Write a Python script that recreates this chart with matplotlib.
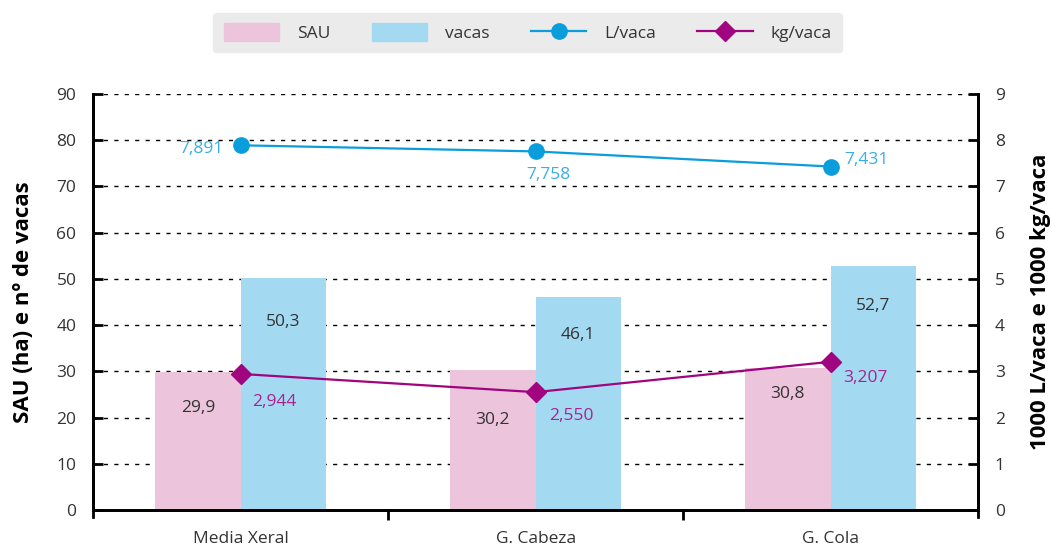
import matplotlib
matplotlib.use("Agg")
import matplotlib.pyplot as plt
from matplotlib import font_manager
from matplotlib.patches import Patch
from matplotlib.lines import Line2D

# ----------------------------------------------------------------
# Data
# ----------------------------------------------------------------
categories = ["Media Xeral", "G. Cabeza", "G. Cola"]
sau = [29.9, 30.2, 30.8]
vacas = [50.3, 46.1, 52.7]
l_vaca = [7.891, 7.758, 7.431]
kg_vaca = [2.944, 2.550, 3.207]

# label anchors (style only)
sau_lab_y = [22.0, 19.5, 25.1]
vacas_lab_y = [40.7, 37.9, 44.2]

# ----------------------------------------------------------------
# Style
# ----------------------------------------------------------------
names = {f.name for f in font_manager.fontManager.ttflist}
for fam in ["Liberation Sans Narrow", "Open Sans", "DejaVu Sans"]:
    if fam in names:
        FONT = fam
        break
plt.rcParams["font.family"] = [FONT, "DejaVu Sans"]

C_SAU = "#ecc4dc"
C_VACAS = "#a3daf2"
C_L = "#0a9ddc"
C_L_TXT = "#3aaee2"
C_KG = "#a0047e"
C_KG_TXT = "#a8238e"
C_TXT = "#333333"
FS = 12.5

fig = plt.figure(figsize=(10.55, 5.45), dpi=100)
ax = fig.add_axes([0.0882, 0.0642, 0.8389, 0.7633])
ax2 = ax.twinx()

x = list(range(len(categories)))
w = 0.29
ax.bar([i - w / 2 for i in x], sau, width=w, color=C_SAU, zorder=2)
ax.bar([i + w / 2 for i in x], vacas, width=w, color=C_VACAS, zorder=2)

for i in x:
    ax.text(i - w / 2, sau_lab_y[i], f"{sau[i]:.1f}".replace(".", ","),
            ha="center", va="center", fontsize=FS, color=C_TXT, zorder=5)
    ax.text(i + w / 2, vacas_lab_y[i], f"{vacas[i]:.1f}".replace(".", ","),
            ha="center", va="center", fontsize=FS, color=C_TXT, zorder=5)

ax.set_xlim(-0.5, 2.5)
ax.set_ylim(0, 90)
ax.set_yticks(range(0, 91, 10))
ax.yaxis.grid(True, color="black", ls=(0, (3, 4.5)), lw=1)
ax.set_axisbelow(True)
ax.set_xticks(x)
ax.set_xticklabels(categories)
ax.set_xticks([0.5, 1.5], minor=True)
ax.tick_params(axis="x", which="major", length=0, pad=15,
               labelsize=FS, labelcolor=C_TXT)
ax.tick_params(axis="x", which="minor", length=7, width=2, direction="out")
ax.tick_params(axis="y", direction="in", length=7, width=2,
               labelsize=FS, labelcolor=C_TXT, pad=12)
ax.set_ylabel("SAU (ha) e nº de vacas", fontsize=16, fontweight="bold",
              labelpad=16)

# ── secondary axis ──────────────────────────────────────────
ax2.plot(x, l_vaca, color=C_L, lw=1.6, marker="o", ms=11, zorder=4)
ax2.plot(x, kg_vaca, color=C_KG, lw=1.6, marker="D", ms=10, zorder=4)
ax2.set_ylim(0, 9)
ax2.set_yticks(range(0, 10))
ax2.tick_params(axis="y", direction="in", length=7, width=2,
                labelsize=FS, labelcolor=C_TXT, pad=12)
ax2.set_ylabel("1000 L/vaca e 1000 kg/vaca", fontsize=16,
               fontweight="bold", labelpad=18)

l_off = [(-12, -3, "right"), (9, -17, "center"), (10, 5, "left")]
for i in x:
    dx, dy, ha = l_off[i]
    ax2.annotate(f"{l_vaca[i]:.3f}".replace(".", ","), (i, l_vaca[i]),
                 xytext=(dx, dy), textcoords="offset points", ha=ha,
                 va="center", fontsize=FS, color=C_L_TXT)
kg_off = [(24, -20), (26, -17), (25, -12)]
for i in x:
    dx, dy = kg_off[i]
    ax2.annotate(f"{kg_vaca[i]:.3f}".replace(".", ","), (i, kg_vaca[i]),
                 xytext=(dx, dy), textcoords="offset points", ha="center",
                 va="center", fontsize=FS, color=C_KG_TXT)

for a in (ax, ax2):
    a.spines["top"].set_visible(False)
    for s in ("left", "right", "bottom"):
        a.spines[s].set_linewidth(2)
ax.spines["left"].set_bounds(-1.6, 90)
ax2.spines["right"].set_bounds(-0.16, 9)

# ── legend ─────────────────────────────────────────────────
handles = [
    Patch(color=C_SAU, label="SAU"),
    Patch(color=C_VACAS, label="vacas"),
    Line2D([], [], color=C_L, lw=1.6, marker="o", ms=11, label="L/vaca"),
    Line2D([], [], color=C_KG, lw=1.6, marker="D", ms=10, label="kg/vaca"),
]
leg = fig.legend(handles=handles, loc="center", bbox_to_anchor=(0.5, 0.94),
                 ncol=4, frameon=True, fancybox=True, fontsize=FS,
                 handlelength=3.2, handleheight=1.2, handletextpad=1.0,
                 columnspacing=2.4, borderpad=0.6, labelcolor=C_TXT)
leg.get_frame().set_facecolor("#ebebeb")
leg.get_frame().set_edgecolor("#ebebeb")
leg.get_frame().set_alpha(1)

fig.savefig("out.png", dpi=100)
